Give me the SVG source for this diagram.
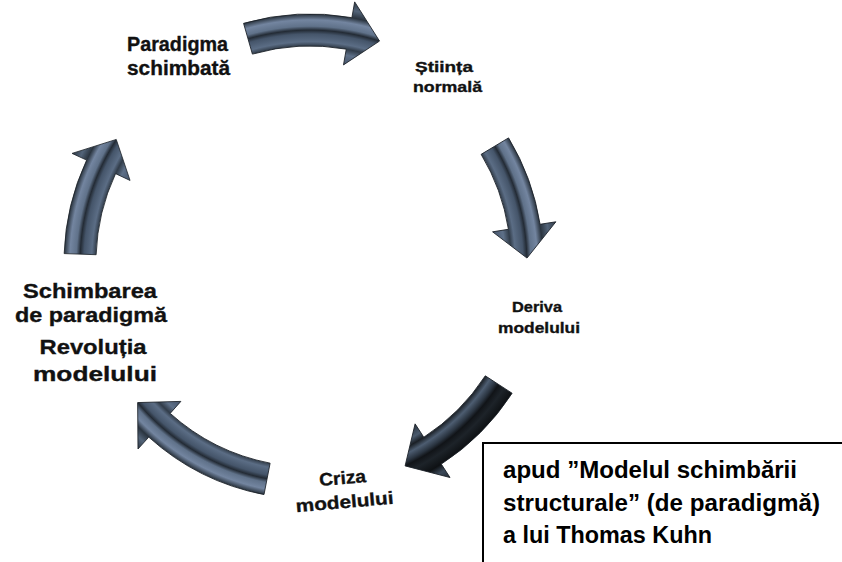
<svg xmlns="http://www.w3.org/2000/svg" width="842" height="562" viewBox="0 0 842 562">
<style>
  .lbl { font-family: "Liberation Sans", Arial, sans-serif; font-weight: bold; fill: #111; stroke: #111; stroke-width: 0.35; }
  .box { font-family: "Liberation Sans", Arial, sans-serif; font-weight: bold; fill: #000; font-size: 23px; }
  .arr { stroke: #1b2128; stroke-width: 0.8; stroke-linejoin: round; }
</style>
<defs>
  <radialGradient id="gSlate" gradientUnits="userSpaceOnUse" cx="0" cy="0" r="257">
    <stop offset="0" stop-color="#44536a"/>
    <stop offset="0.75" stop-color="#44536a"/>
    <stop offset="0.79" stop-color="#5e7088"/>
    <stop offset="0.813" stop-color="#313c49"/>
    <stop offset="0.83" stop-color="#5b6d85"/>
    <stop offset="0.86" stop-color="#45556a"/>
    <stop offset="0.875" stop-color="#232b35"/>
    <stop offset="0.89" stop-color="#60728a"/>
    <stop offset="0.915" stop-color="#7385a0"/>
    <stop offset="0.937" stop-color="#2a343f"/>
    <stop offset="0.965" stop-color="#526378"/>
    <stop offset="1" stop-color="#2f3945"/>
  </radialGradient>
  <radialGradient id="gDark" gradientUnits="userSpaceOnUse" cx="0" cy="0" r="257">
    <stop offset="0" stop-color="#2a333d"/>
    <stop offset="0.75" stop-color="#2a333d"/>
    <stop offset="0.79" stop-color="#4a5a6d"/>
    <stop offset="0.813" stop-color="#1a1f25"/>
    <stop offset="0.835" stop-color="#4d5d71"/>
    <stop offset="0.86" stop-color="#2a3440"/>
    <stop offset="0.875" stop-color="#111418"/>
    <stop offset="0.9" stop-color="#1d2329"/>
    <stop offset="0.937" stop-color="#0e1114"/>
    <stop offset="0.965" stop-color="#3c4a5a"/>
    <stop offset="1" stop-color="#222a33"/>
  </radialGradient>
</defs>
<rect width="842" height="562" fill="#fff"/>

<g id="connectors">
  <g id="arrow-top" transform="translate(310,255) rotate(-106)">
    <path class="arr" fill="url(#gSlate)" d="M241,0 A241,241 0 0 1 216.6,105.7 L231.0,112.7 L186.5,125.8 L173.5,84.6 L187.9,91.6 A209,209 0 0 0 209,0 Z"/>
  </g>
  <g id="arrow-right" transform="translate(302,262) rotate(-31)">
    <path class="arr" fill="url(#gSlate)" d="M241,0 A241,241 0 0 1 223.5,90.3 L238.3,96.3 L194.9,112.5 L178.9,72.3 L193.8,78.3 A209,209 0 0 0 209,0 Z"/>
  </g>
  <g id="arrow-lowright" transform="translate(310,262) rotate(33)">
    <path class="arr" fill="url(#gDark)" d="M241,0 A241,241 0 0 1 220.2,98.0 L234.8,104.5 L190.8,119.2 L176.3,78.5 L190.9,85.0 A209,209 0 0 0 209,0 Z"/>
  </g>
  <g id="arrow-bottom" transform="translate(310,258) rotate(101)">
    <path class="arr" fill="url(#gSlate)" d="M241,0 A241,241 0 0 1 206.6,124.1 L220.3,132.4 L174.8,141.6 L165.4,99.4 L179.2,107.6 A209,209 0 0 0 209,0 Z"/>
  </g>
  <g id="arrow-left" transform="translate(305,262) rotate(182)">
    <path class="arr" fill="url(#gSlate)" d="M241,0 A241,241 0 0 1 221.8,94.2 L236.6,100.4 L192.9,115.9 L177.7,75.4 L192.4,81.7 A209,209 0 0 0 209,0 Z"/>
  </g>
</g>

<g id="node-paradigma">
  <text class="lbl" font-size="20" x="127" y="51" textLength="101" lengthAdjust="spacingAndGlyphs">Paradigma</text>
  <text class="lbl" font-size="20" x="127" y="75" textLength="103" lengthAdjust="spacingAndGlyphs">schimbată</text>
</g>
<g id="node-stiinta">
  <text class="lbl" font-size="15" x="415" y="72" textLength="58" lengthAdjust="spacingAndGlyphs">Știința</text>
  <text class="lbl" font-size="15" x="413" y="92" textLength="69" lengthAdjust="spacingAndGlyphs">normală</text>
</g>
<g id="node-deriva">
  <text class="lbl" font-size="15" x="512" y="312" textLength="50" lengthAdjust="spacingAndGlyphs">Deriva</text>
  <text class="lbl" font-size="15" x="498" y="333" textLength="82" lengthAdjust="spacingAndGlyphs">modelului</text>
</g>
<g id="node-criza" transform="rotate(-5,344,495)">
  <text class="lbl" font-size="18" x="344" y="484" text-anchor="middle" textLength="47" lengthAdjust="spacingAndGlyphs">Criza</text>
  <text class="lbl" font-size="18" x="344" y="508" text-anchor="middle" textLength="98" lengthAdjust="spacingAndGlyphs">modelului</text>
</g>
<g id="node-schimbarea">
  <text class="lbl" font-size="21" x="90" y="298" text-anchor="middle" textLength="134" lengthAdjust="spacingAndGlyphs">Schimbarea</text>
  <text class="lbl" font-size="21" x="91" y="322" text-anchor="middle" textLength="152" lengthAdjust="spacingAndGlyphs">de paradigmă</text>
  <text class="lbl" font-size="21" x="93" y="354" text-anchor="middle" textLength="107" lengthAdjust="spacingAndGlyphs">Revoluția</text>
  <text class="lbl" font-size="21" x="95" y="381" text-anchor="middle" textLength="124" lengthAdjust="spacingAndGlyphs">modelului</text>
</g>

<g id="note">
  <rect x="483" y="443" width="400" height="200" fill="#fff" stroke="#000" stroke-width="2"/>
  <text class="box" x="503" y="478" textLength="294" lengthAdjust="spacingAndGlyphs">apud ”Modelul schimbării</text>
  <text class="box" x="503" y="511" textLength="317" lengthAdjust="spacingAndGlyphs">structurale” (de paradigmă)</text>
  <text class="box" x="503" y="543" textLength="209" lengthAdjust="spacingAndGlyphs">a lui Thomas Kuhn</text>
</g>
</svg>
